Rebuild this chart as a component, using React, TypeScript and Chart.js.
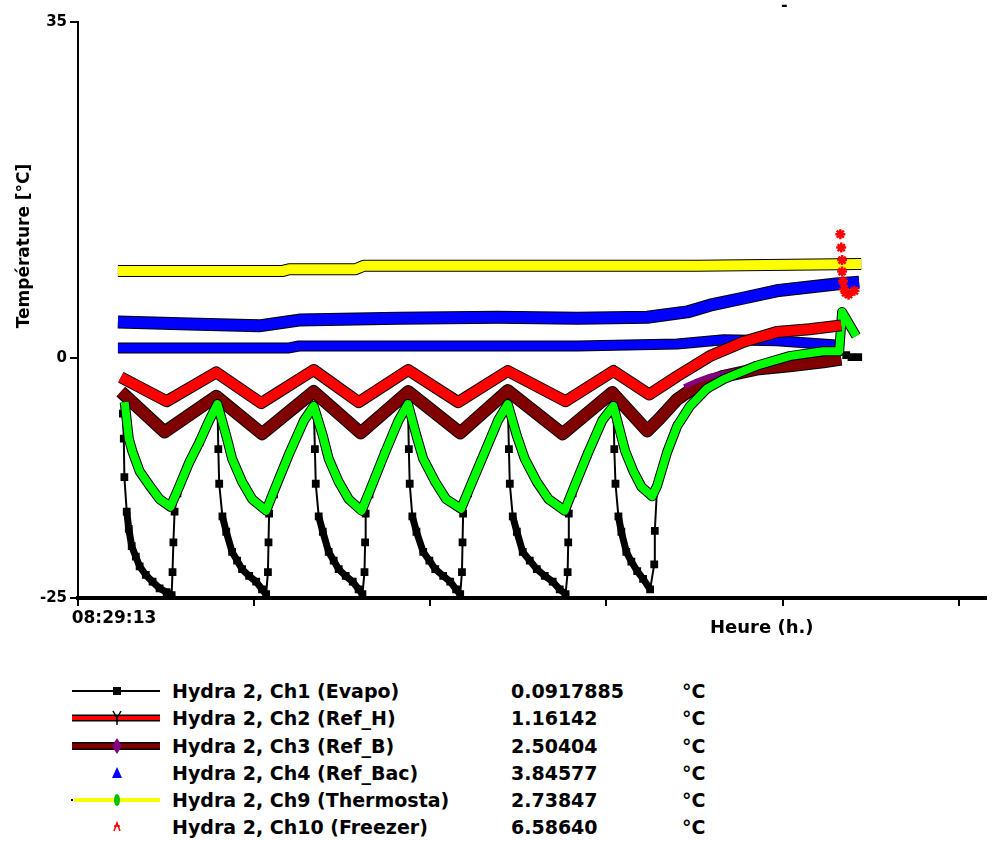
import React, { useEffect, useRef } from "react";
import { Chart, registerables } from "chart.js";

Chart.register(...registerables);

const FONT = '"DejaVu Sans", Verdana, sans-serif';

// ---------- axes ----------
// x: minutes elapsed since 08:29:13 (one tick per hour)
const xMin = 0;
const xMax = 309.15;
const xTickValues = [0, 60, 120, 180, 240, 300];
const xTickLabels = ["08:29:13", "", "", "", "", ""];
const yMin = -25;
const yMax = 35;
const yTickValues = [-25, 0, 35];
const yTickLabels = ["-25", "0", "35"];

// ---------- series (time in minutes, temperature in °C) ----------
const ch1Time = [
  15.3, 15.6, 15.8, 16.6, 17.3, 18.3, 19.7, 21.0, 23.1, 25.4, 27.8, 30.2, 31.9, 32.2, 32.5, 32.9, 33.9, 41.4, 47.5,
  47.8, 48.1, 49.2, 50.5, 52.5, 54.2, 55.9, 58.3, 60.7, 62.7, 64.1, 64.7, 64.9, 65.1, 66.8, 71.9, 80.3,
  80.7, 81.0, 82.0, 83.4, 85.4, 87.1, 88.8, 91.2, 93.6, 95.6, 96.9, 97.6, 97.8, 98.0, 99.3, 104.4, 112.4,
  112.7, 113.0, 113.9, 115.3, 117.6, 119.7, 121.7, 124.4, 126.8, 128.8, 130.2, 130.8, 131.0, 131.2, 132.9, 138.3, 146.4,
  146.8, 147.1, 148.1, 149.5, 151.5, 153.9, 156.3, 159.0, 161.7, 164.1, 166.1, 166.8, 167.0, 167.2, 168.5, 173.6, 182.4,
  182.7, 183.1, 184.1, 185.1, 186.8, 188.5, 190.5, 192.5, 194.9, 196.3, 196.5, 197.3, 204.1, 214.2, 231.2, 253.9, 259.3,
  261.7, 263.5, 265.8,
];
const ch1Temp = [
  -5.8, -8.4, -12.4, -16.0, -17.8, -19.6, -20.7, -21.7, -22.6, -23.3, -24.0, -24.4, -24.7, -22.3, -19.2, -16.0, -14.1, -8.75, -4.8,
  -9.5, -13.1, -16.5, -18.1, -20.2, -21.1, -22.0, -22.7, -23.3, -24.1, -24.6, -22.3, -19.2, -16.2, -14.2, -10.0, -5.0,
  -9.5, -13.1, -16.5, -18.1, -20.2, -21.1, -22.0, -22.7, -23.3, -24.1, -24.6, -22.3, -19.2, -16.2, -14.2, -10.0, -4.8,
  -9.5, -13.1, -16.5, -18.1, -20.2, -21.1, -22.0, -22.7, -23.3, -24.1, -24.6, -22.3, -19.2, -16.2, -14.1, -10.0, -4.8,
  -9.5, -13.1, -16.5, -18.1, -20.2, -21.1, -22.0, -22.7, -23.3, -24.1, -24.6, -22.3, -19.2, -16.2, -14.1, -10.0, -5.0,
  -9.5, -13.1, -16.5, -18.1, -20.2, -21.2, -22.2, -23.0, -24.1, -21.5, -18.0, -13.3, -7.1, -3.2, -0.8, 0.7, 0.7,
  0.3, 0.1, 0.1,
];

const ch2Time = [14.6, 30.2, 47.1, 62.4, 80.3, 95.6, 112.5, 129.5, 146.4, 166.1, 182.4, 194.6, 204.1, 215.3, 226.8, 238.0, 249.2, 260.0];
const ch2Temp = [-2.0, -4.5, -1.5, -4.7, -1.25, -4.6, -1.25, -4.6, -1.35, -4.5, -1.35, -3.8, -1.9, 0.2, 1.7, 2.7, 3.0, 3.4];

const ch3Time = [14.6, 29.5, 47.1, 62.7, 80.3, 96.3, 112.5, 130.2, 146.4, 165.1, 182.0, 193.9, 198.0, 204.1, 210.8, 220.0, 231.2, 242.4, 253.9, 260.0];
const ch3Temp = [-3.5, -7.7, -4.0, -7.9, -3.5, -7.8, -3.5, -7.8, -3.4, -7.9, -3.6, -7.6, -6.35, -4.3, -2.9, -1.9, -1.15, -0.8, -0.4, -0.1];

// purple markers of Ch3 visible along the final warm-up
const ch3MarkTime = [206.5, 210.8, 215.3, 220.0, 226.0];
const ch3MarkTemp = [-3.0, -2.4, -1.9, -1.6, -1.3];

const ch4Time = [13.6, 38.0, 61.7, 75.3, 109.2, 143.1, 170.2, 193.9, 207.5, 215.3, 226.8, 238.0, 249.2, 258.3, 266.1];
const ch4Temp = [3.75, 3.55, 3.35, 3.95, 4.15, 4.25, 4.15, 4.25, 4.8, 5.5, 6.25, 7.0, 7.4, 7.7, 7.9];

const ch5Time = [13.6, 71.9, 75.3, 143.1, 170.2, 204.1, 220.0, 238.0, 258.3];
const ch5Temp = [1.05, 1.05, 1.25, 1.25, 1.25, 1.45, 1.9, 1.8, 1.35];

const ch6Time = [
  15.9, 17.3, 18.6, 21.0, 24.4, 27.8, 31.5, 34.6, 38.0, 41.4, 44.7, 47.5,
  50.5, 52.5, 55.9, 59.3, 64.1, 67.1, 71.9, 77.0, 80.3,
  83.4, 85.4, 88.8, 92.2, 96.6, 99.7, 104.4, 109.2, 112.4,
  115.3, 117.6, 121.7, 125.4, 130.5, 133.6, 138.3, 143.1, 146.4,
  149.5, 152.2, 156.3, 160.3, 165.8, 168.8, 173.6, 178.6, 182.4,
  184.7, 186.4, 189.2, 191.9, 195.6, 197.3, 200.7, 204.1, 208.5, 214.2, 220.0, 231.2, 242.4, 253.9, 259.3, 260.3, 265.1,
];
const ch6Temp = [
  -4.6, -8.4, -9.8, -11.8, -13.3, -14.7, -15.5, -13.3, -10.8, -8.75, -6.5, -4.8,
  -8.1, -10.5, -12.9, -14.7, -15.9, -13.6, -10.0, -6.5, -5.0,
  -8.1, -10.5, -12.9, -14.7, -15.9, -13.6, -10.0, -6.5, -4.8,
  -8.1, -10.5, -12.9, -14.7, -15.7, -13.4, -10.0, -6.5, -4.8,
  -8.1, -10.5, -12.9, -14.7, -15.9, -13.6, -10.0, -6.5, -5.0,
  -7.7, -9.7, -11.8, -13.4, -14.4, -13.3, -9.8, -7.1, -5.0, -3.2, -2.2, -0.8, 0.2, 0.7, 0.7, 4.8, 2.3,
];

const ch9Time = [13.6, 69.5, 71.9, 94.6, 97.3, 143.1, 210.8, 266.8];
const ch9Temp = [9.05, 9.05, 9.25, 9.25, 9.6, 9.6, 9.6, 9.8];

const ch10Time = [259.7, 260.0, 260.3, 260.3, 260.6, 261.0, 261.5, 262.5, 264.5];
const ch10Temp = [12.9, 11.5, 10.2, 9.0, 8.0, 7.2, 6.8, 6.6, 7.0];

// ---------- legend ----------
const legendNames = [
  "Hydra 2, Ch1 (Evapo)",
  "Hydra 2, Ch2 (Ref_H)",
  "Hydra 2, Ch3 (Ref_B)",
  "Hydra 2, Ch4 (Ref_Bac)",
  "Hydra 2, Ch9 (Thermosta)",
  "Hydra 2, Ch10 (Freezer)",
];
const legendValues = ["0.0917885", "1.16142", "2.50404", "3.84577", "2.73847", "6.58640"];
const legendUnits = ["°C", "°C", "°C", "°C", "°C", "°C"];

const pts = (xs: number[], ys: number[]) => xs.map((x, i) => ({ x, y: ys[i] }));

function band(label: string, xs: number[], ys: number[], color: string, width: number) {
  const data = pts(xs, ys);
  const main: any = {
    label,
    data,
    borderColor: color,
    backgroundColor: color,
    borderWidth: width,
    pointRadius: 0,
    fill: false,
    tension: 0,
    borderJoinStyle: "round",
  };
  const edge: any = { ...main, label: label + " edge", borderColor: "#000", backgroundColor: "#000", borderWidth: width + 2 };
  return [main, edge];
}

function Swatch({ kind }: { kind: number }) {
  const c = 47;
  return (
    <svg width={92} height={20} style={{ position: "absolute", left: 70, top: 0 }}>
      {kind === 0 && (
        <>
          <line x1={2} y1={10} x2={90} y2={10} stroke="#000" strokeWidth={2} />
          <rect x={c - 4} y={6} width={8} height={8} fill="#000" />
        </>
      )}
      {kind === 1 && (
        <>
          <line x1={2} y1={10} x2={90} y2={10} stroke="#000" strokeWidth={7} />
          <line x1={2} y1={10} x2={90} y2={10} stroke="#ff0000" strokeWidth={4} />
          <path d={`M${c - 4} 3 L${c} 10 L${c + 4} 3 M${c} 10 L${c} 17`} stroke="#000" strokeWidth={1.5} fill="none" />
        </>
      )}
      {kind === 2 && (
        <>
          <line x1={2} y1={10} x2={90} y2={10} stroke="#000" strokeWidth={8} />
          <line x1={2} y1={10} x2={90} y2={10} stroke="#800000" strokeWidth={5} />
          <polygon points={`${c},2 ${c + 5},10 ${c},18 ${c - 5},10`} fill="#800080" />
        </>
      )}
      {kind === 3 && <polygon points={`${c},4 ${c + 5},15 ${c - 5},15`} fill="#0000ff" />}
      {kind === 4 && (
        <>
          <line x1={4} y1={10} x2={90} y2={10} stroke="#ffff00" strokeWidth={4} />
          <rect x={1} y={9} width={2} height={2} fill="#000" />
          <ellipse cx={c} cy={10} rx={3} ry={6} fill="#00c000" />
        </>
      )}
      {kind === 5 && (
        <path d={`M${c - 3} 14 L${c} 6 L${c + 3} 14 M${c - 3} 9 L${c + 3} 9`} stroke="#ff0000" strokeWidth={1.5} fill="none" />
      )}
    </svg>
  );
}

export default function App() {
  const canvasRef = useRef<HTMLCanvasElement | null>(null);

  useEffect(() => {
    const canvas = canvasRef.current;
    if (!canvas) return;

    const datasets: any[] = [
      {
        label: "Ch10",
        data: pts(ch10Time, ch10Temp),
        showLine: false,
        pointStyle: "star",
        pointRadius: 5,
        pointBorderColor: "#ff0000",
        pointBackgroundColor: "#ff0000",
        pointBorderWidth: 2.5,
        borderColor: "#ff0000",
      },
      ...band("Ch9", ch9Time, ch9Temp, "#ffff00", 10),
      ...band("Ch4", ch4Time, ch4Temp, "#0000ff", 11),
      ...band("Ch2", ch2Time, ch2Temp, "#ff0000", 10),
      ...band("Ch6", ch6Time, ch6Temp, "#00ff00", 8),
      {
        label: "Ch3 marks",
        data: pts(ch3MarkTime, ch3MarkTemp),
        borderColor: "#800080",
        borderWidth: 5,
        pointRadius: 0,
        fill: false,
        tension: 0,
      },
      ...band("Ch3", ch3Time, ch3Temp, "#800000", 11),
      ...band("Ch5", ch5Time, ch5Temp, "#0000ff", 9),
      {
        label: "Ch1",
        data: pts(ch1Time, ch1Temp),
        borderColor: "#000",
        backgroundColor: "#000",
        borderWidth: 2,
        borderJoinStyle: "round",
        borderCapStyle: "round",
        pointStyle: "rect",
        pointRadius: 5.5,
        pointBorderWidth: 0,
        pointBackgroundColor: "#000",
        fill: false,
        tension: 0,
        // densely sampled cooling part of each evaporator cycle reads as a heavy trail
        segment: {
          borderWidth: (ctx: any) =>
            ctx.p1.parsed.y < ctx.p0.parsed.y && ctx.p0.parsed.y < -14 && ctx.p1.parsed.x - ctx.p0.parsed.x > 0.5 ? 7 : 2,
        },
      },
    ];

    const chart = new Chart(canvas, {
      type: "line",
      data: { datasets },
      options: {
        responsive: false,
        animation: false,
        devicePixelRatio: 1,
        layout: { padding: { top: 22, right: 3, left: 0, bottom: 0 } },
        plugins: {
          legend: { display: false },
          tooltip: { enabled: false },
          title: { display: false },
        },
        scales: {
          x: {
            type: "linear",
            min: xMin,
            max: xMax,
            afterBuildTicks: (s: any) => {
              s.ticks = xTickValues.map((v) => ({ value: v }));
            },
            afterFit: (s: any) => {
              s.height = 52;
            },
            ticks: {
              autoSkip: false,
              maxRotation: 0,
              minRotation: 0,
              labelOffset: 36,
              padding: 2,
              color: "#000",
              font: { family: FONT, weight: "bold", size: 17 },
              callback: (_v: any, i: number) => xTickLabels[i] ?? "",
            },
            grid: { drawOnChartArea: false, drawTicks: true, tickLength: 8, color: "#000", lineWidth: 2 },
            border: { display: true, color: "#000", width: 4 },
          },
          y: {
            type: "linear",
            min: yMin,
            max: yMax,
            afterBuildTicks: (s: any) => {
              s.ticks = yTickValues.map((v) => ({ value: v }));
            },
            afterFit: (s: any) => {
              s.width = 78;
            },
            ticks: {
              autoSkip: false,
              padding: 3,
              color: "#000",
              font: { family: FONT, weight: "bold", size: 15 },
              callback: (_v: any, i: number) => yTickLabels[i] ?? "",
            },
            grid: { drawOnChartArea: false, drawTicks: true, tickLength: 8, color: "#000", lineWidth: 2 },
            border: { display: true, color: "#000", width: 2 },
          },
        },
      } as any,
    });

    return () => chart.destroy();
  }, []);

  const rowCenters = [691, 718, 746, 773, 800, 827];
  const textStyle: React.CSSProperties = {
    position: "absolute",
    fontFamily: FONT,
    fontWeight: "bold",
    fontSize: 19,
    lineHeight: "20px",
    whiteSpace: "nowrap",
    color: "#000",
    top: 0,
  };

  return (
    <div
      style={{
        position: "absolute",
        left: 0,
        top: 0,
        width: 993,
        height: 842,
        overflow: "hidden",
        background: "#fff",
      }}
    >
      <canvas ref={canvasRef} width={993} height={650} style={{ position: "absolute", left: 0, top: 0, display: "block" }} />

      <div
        style={{
          position: "absolute",
          left: -77,
          top: 236,
          width: 200,
          height: 20,
          lineHeight: "20px",
          textAlign: "center",
          transform: "rotate(-90deg)",
          fontFamily: FONT,
          fontWeight: "bold",
          fontSize: 17,
          whiteSpace: "nowrap",
        }}
      >
        Température [°C]
      </div>

      <div
        style={{
          position: "absolute",
          left: 710,
          top: 617,
          fontFamily: FONT,
          fontWeight: "bold",
          fontSize: 18,
          lineHeight: "20px",
          whiteSpace: "nowrap",
        }}
      >
        Heure (h.)
      </div>

      <div
        style={{
          position: "absolute",
          left: 781,
          top: -3,
          fontFamily: FONT,
          fontWeight: "bold",
          fontSize: 16,
          lineHeight: "16px",
        }}
      >
        -
      </div>

      {legendNames.map((name, i) => (
        <div key={name} style={{ position: "absolute", left: 0, top: rowCenters[i] - 10, width: 993, height: 20 }}>
          <Swatch kind={i} />
          <span style={{ ...textStyle, left: 172 }}>{name}</span>
          <span style={{ ...textStyle, left: 511 }}>{legendValues[i]}</span>
          <span style={{ ...textStyle, left: 682 }}>{legendUnits[i]}</span>
        </div>
      ))}
    </div>
  );
}
